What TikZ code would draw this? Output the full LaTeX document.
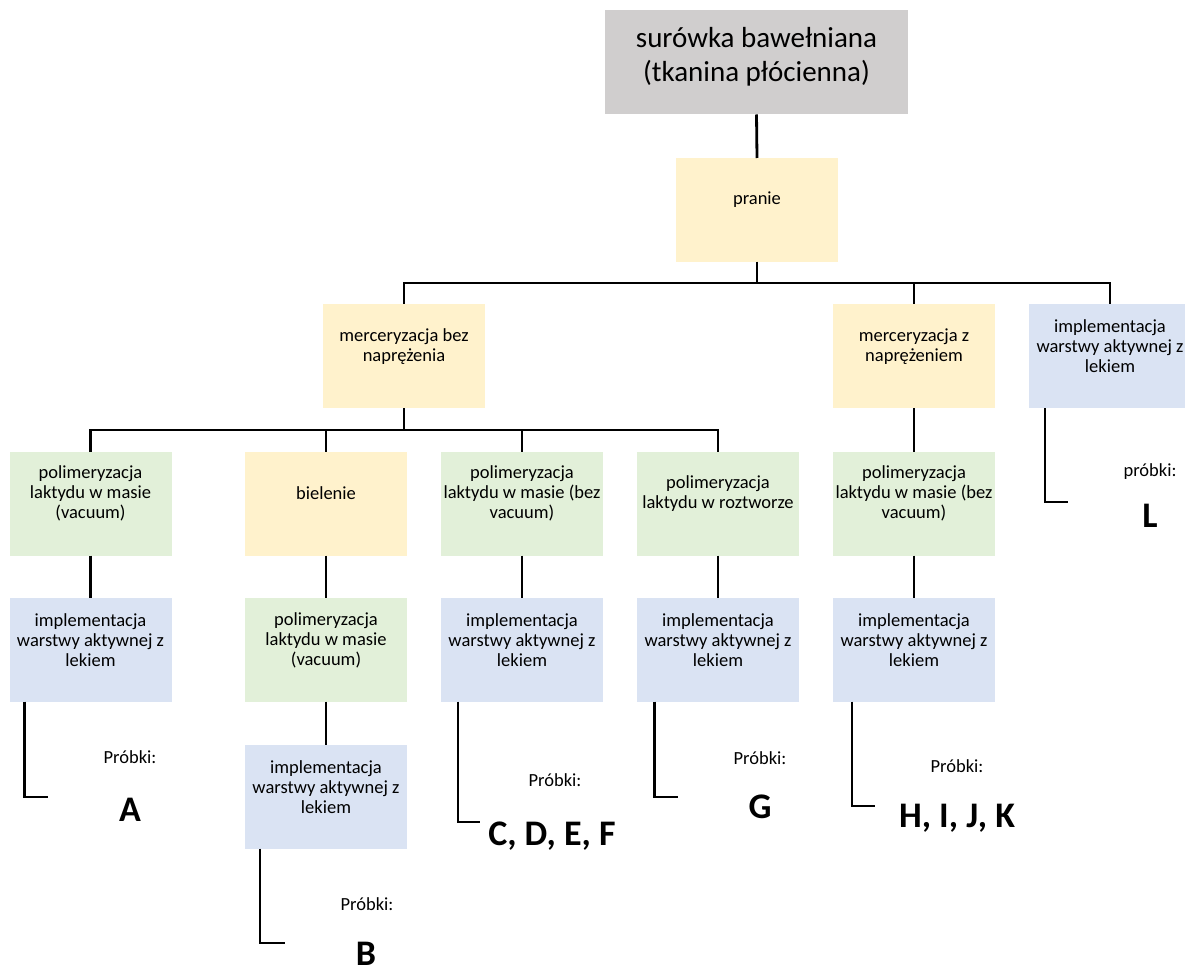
\documentclass[tikz,border=0pt]{standalone}
\usepackage{fontspec}
\setmainfont{Carlito}
\definecolor{cgrey}{HTML}{D0CECE}
\definecolor{cyel}{HTML}{FFF2CC}
\definecolor{cgrn}{HTML}{E2F0D9}
\definecolor{cblu}{HTML}{DAE3F3}
\begin{document}
\begin{tikzpicture}[x=1pt,y=-1pt,
  box/.style={minimum width=162pt,minimum height=104pt,inner sep=0pt,outer sep=0pt,draw=none},
  fgrey/.style={box,fill=cgrey,minimum width=303pt,minimum height=104pt},
  fyel/.style={box,fill=cyel},
  fgrn/.style={box,fill=cgrn},
  fblu/.style={box,fill=cblu},
  txt/.style={font=\fontsize{18.5}{20}\selectfont,align=center,inner sep=0pt},
  bigtxt/.style={font=\fontsize{29}{34}\selectfont,align=center,inner sep=0pt},
  conn/.style={line width=2.8pt,black},
  lbl/.style={font=\fontsize{18.5}{20}\selectfont,inner sep=0pt,anchor=base},
  big/.style={font=\fontsize{36}{40}\selectfont\bfseries,inner sep=0pt,anchor=base}
]
\useasboundingbox (0,0) rectangle (1185,965);
\clip (0,0) rectangle (1185,965);

% boxes
\node[fgrey] (top) at (756.5,62.5) {};
\node[fyel] (pr) at (757,210) {};
\node[fyel] (m1) at (404,356) {};
\node[fyel] (m2) at (914,356) {};
\node[fblu] (iL) at (1110,356) {};
\node[fgrn] (r2a) at (90.5,503.5) {};
\node[fyel] (r2b) at (326,503.5) {};
\node[fgrn] (r2c) at (522,503.5) {};
\node[fgrn] (r2d) at (718,503.5) {};
\node[fgrn] (r2e) at (914,503.5) {};
\node[fblu] (r3a) at (90.5,649.5) {};
\node[fgrn] (r3b) at (326,649.5) {};
\node[fblu] (r3c) at (522,649.5) {};
\node[fblu] (r3d) at (718,649.5) {};
\node[fblu] (r3e) at (914,649.5) {};
\node[fblu] (r4b) at (326,796.5) {};

% box texts
\node[bigtxt] (ttop) at ([yshift=6pt]top.center) {surówka bawełniana\\(tkanina płócienna)};
\node[txt] (tpr) at ([yshift=10pt]pr.center) {pranie};
\node[txt] (tm1) at ([yshift=9.5pt]m1.center) {merceryzacja bez\\naprężenia};
\node[txt] (tm2) at ([yshift=9.5pt]m2.center) {merceryzacja z\\naprężeniem};
\node[txt] (tiL) at ([yshift=9.5pt]iL.center) {implementacja\\warstwy aktywnej z\\lekiem};
\node[txt] (t2a) at ([yshift=10pt]r2a.center) {polimeryzacja\\laktydu w masie\\(vacuum)};
\node[txt] (t2b) at ([yshift=10pt]r2b.center) {bielenie};
\node[txt] (t2c) at ([yshift=10pt]r2c.center) {polimeryzacja\\laktydu w masie (bez\\vacuum)};
\node[txt] (t2d) at ([yshift=10pt]r2d.center) {polimeryzacja\\laktydu w roztworze};
\node[txt] (t2e) at ([yshift=10pt]r2e.center) {polimeryzacja\\laktydu w masie (bez\\vacuum)};
\node[txt] (t3a) at ([yshift=9.5pt]r3a.center) {implementacja\\warstwy aktywnej z\\lekiem};
\node[txt] (t3b) at ([yshift=9.5pt]r3b.center) {polimeryzacja\\laktydu w masie\\(vacuum)};
\node[txt] (t3c) at ([yshift=9.5pt]r3c.center) {implementacja\\warstwy aktywnej z\\lekiem};
\node[txt] (t3d) at ([yshift=9.5pt]r3d.center) {implementacja\\warstwy aktywnej z\\lekiem};
\node[txt] (t3e) at ([yshift=9.5pt]r3e.center) {implementacja\\warstwy aktywnej z\\lekiem};
\node[txt] (t4b) at ([yshift=9.5pt]r4b.center) {implementacja\\warstwy aktywnej z\\lekiem};

% connectors
\draw[conn] (top.south) -- (pr.north);
\draw[conn] (pr.south) -- ++(0,21) -| (m1.north);
\draw[conn] (pr.south) -- ++(0,21) -| (m2.north);
\draw[conn] (pr.south) -- ++(0,21) -| (iL.north);
\draw[conn] (m1.south) -- ++(0,22) -| (r2a.north);
\draw[conn] (m1.south) -- ++(0,22) -| (r2b.north);
\draw[conn] (m1.south) -- ++(0,22) -| (r2c.north);
\draw[conn] (m1.south) -- ++(0,22) -| (r2d.north);
\draw[conn] (m2.south) -- (r2e.north);
\draw[conn] (r2a.south) -- (r3a.north);
\draw[conn] (r2b.south) -- (r3b.north);
\draw[conn] (r2c.south) -- (r3c.north);
\draw[conn] (r2d.south) -- (r3d.north);
\draw[conn] (r2e.south) -- (r3e.north);
\draw[conn] (r3b.south) -- (r4b.north);

% sample brackets
\coordinate (eA) at (48,797);
\coordinate (eB) at (285,943);
\coordinate (eC) at (480,822);
\coordinate (eG) at (677.5,797);
\coordinate (eH) at (875,806);
\coordinate (eL) at (1068,502);
\draw[conn] ([xshift=15pt]r3a.south west) |- (eA);
\draw[conn] ([xshift=15pt]r4b.south west) |- (eB);
\draw[conn] ([xshift=17pt]r3c.south west) |- (eC);
\draw[conn] ([xshift=17.5pt]r3d.south west) |- (eG);
\draw[conn] ([xshift=19pt]r3e.south west) |- (eH);
\draw[conn] ([xshift=16pt]iL.south west) |- (eL);

% sample labels
\node[lbl] (pA) at (130,763) {Próbki:};
\node[big] (sA) at (130,821) {A};
\node[lbl] (pB) at (367,910) {Próbki:};
\node[big] (sB) at (366,965) {B};
\node[lbl] (pC) at (555,786) {Próbki:};
\node[big] (sC) at (552,845) {C, D, E, F};
\node[lbl] (pG) at (760,764) {Próbki:};
\node[big] (sG) at (760,818) {G};
\node[lbl] (pH) at (957,772) {Próbki:};
\node[big] (sH) at (957,827) {H, I, J, K};
\node[lbl] (pL) at (1150,476) {próbki:};
\node[big] (sL) at (1150,527) {L};
\end{tikzpicture}
\end{document}
